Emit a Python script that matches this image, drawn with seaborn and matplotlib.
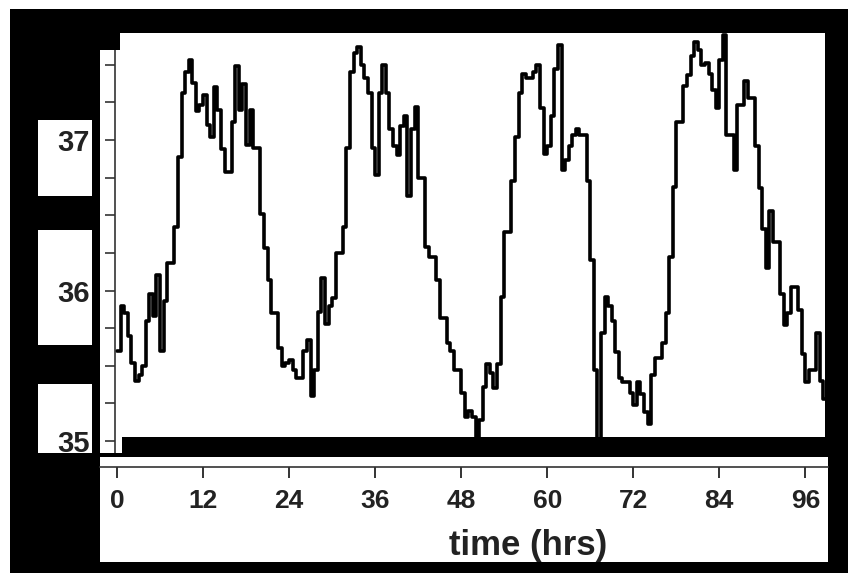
import numpy as np
import pandas as pd
import matplotlib.pyplot as plt
from matplotlib.patches import Rectangle
from matplotlib.ticker import MultipleLocator
import seaborn as sns

# body temperature, one reading every half hour
temp_00_12 = [35.6, 35.9, 35.85, 35.7, 35.52, 35.4, 35.44, 35.5, 35.8, 35.98, 35.83, 36.1,
              35.6, 35.93, 36.18, 36.18, 36.42, 36.89, 37.31, 37.45, 37.53, 37.38, 37.19, 37.23]
temp_12_24 = [37.3, 37.1, 37.02, 37.35, 37.2, 36.94, 36.79, 36.79, 37.12, 37.49, 37.2, 37.37,
              36.97, 37.2, 36.95, 36.95, 36.51, 36.28, 36.07, 35.85, 35.85, 35.62, 35.5, 35.52]
temp_24_36 = [35.54, 35.47, 35.42, 35.42, 35.6, 35.67, 35.3, 35.47, 35.86, 36.08, 35.78, 35.9,
              35.95, 36.25, 36.25, 36.42, 36.95, 37.45, 37.58, 37.62, 37.5, 37.41, 37.31, 36.95]
temp_36_48 = [36.77, 37.31, 37.5, 37.31, 37.07, 36.96, 36.9, 37.09, 37.16, 36.63, 37.07, 37.22,
              36.75, 36.75, 36.29, 36.22, 36.22, 36.07, 35.82, 35.82, 35.65, 35.6, 35.47, 35.47]
temp_48_60 = [35.32, 35.16, 35.2, 35.16, 35.02, 35.14, 35.36, 35.51, 35.45, 35.35, 35.51, 35.96,
              36.39, 36.39, 36.73, 37.02, 37.31, 37.44, 37.41, 37.41, 37.45, 37.5, 37.21, 36.91]
temp_60_72 = [36.96, 37.16, 37.47, 37.63, 36.8, 36.87, 36.96, 37.03, 37.07, 37.03, 37.03, 36.73,
              36.2, 35.47, 35.0, 35.72, 35.96, 35.9, 35.8, 35.59, 35.42, 35.39, 35.39, 35.32]
temp_72_84 = [35.24, 35.39, 35.31, 35.19, 35.11, 35.44, 35.55, 35.55, 35.65, 35.85, 36.22, 36.69,
              37.12, 37.12, 37.36, 37.43, 37.56, 37.65, 37.6, 37.5, 37.51, 37.44, 37.33, 37.21]
temp_84_96 = [37.53, 37.7, 37.03, 37.03, 36.8, 37.23, 37.23, 37.39, 37.28, 37.28, 36.96, 36.68,
              36.41, 36.15, 36.53, 36.32, 36.32, 35.98, 35.77, 35.85, 36.02, 36.02, 35.87, 35.58]
temp_96_99 = [35.39, 35.47, 35.47, 35.72, 35.4, 35.28, 35.28]

x_ticks = [0, 12, 24, 36, 48, 60, 72, 84, 96]
y_ticks = [35, 36, 37]

temps = (temp_00_12 + temp_12_24 + temp_24_36 + temp_36_48 + temp_48_60
         + temp_60_72 + temp_72_84 + temp_84_96 + temp_96_99)
df = pd.DataFrame({'time': np.arange(len(temps)) * 0.5, 'temp': temps})

W, H = 851, 573


def hr(px):
    return (px - 117) / 7.17


def deg(py):
    return 37 + (140 - py) / 150.5


sns.set_style('white')
plt.rcParams['font.family'] = ['Liberation Sans', 'DejaVu Sans']

fig = plt.figure(figsize=(W / 100, H / 100), dpi=100, facecolor='white')


def box(x0, y0, x1, y1, color, z):
    fig.add_artist(Rectangle((x0 / W, 1 - y1 / H), (x1 - x0) / W, (y1 - y0) / H,
                             transform=fig.transFigure, facecolor=color,
                             edgecolor='none', zorder=z))


# scanned frame
box(10, 9, 848, 573, 'black', -3)
box(38, 120, 92, 453, 'white', -2)
box(38, 196, 92, 230, 'black', -1)
box(38, 345, 92, 384, 'black', -1)

# main plot
ax = fig.add_axes([100 / W, 1 - 453 / H, 725 / W, 420 / H])
ax.set_facecolor('white')
sns.lineplot(data=df, x='time', y='temp', ax=ax, color='black', linewidth=2.6,
             drawstyle='steps-post', estimator=None)
ax.set_xlim(hr(100), hr(825))
ax.set_ylim(deg(453), deg(33))
for s in ['top', 'right', 'bottom']:
    ax.spines[s].set_visible(False)
ax.spines['left'].set_position(('axes', 15 / 725))
ax.spines['left'].set_bounds(deg(453), deg(50))
ax.spines['left'].set_color('#333333')
ax.spines['left'].set_linewidth(1.2)
ax.set_xticks([])
ax.set_yticks(y_ticks)
ax.yaxis.set_minor_locator(MultipleLocator(0.25))
ax.tick_params(axis='y', which='both', left=True, direction='out', length=7,
               width=1.2, color='#333333', pad=11)
ax.tick_params(axis='y', which='major', labelsize=21, labelcolor='#222222')
for t in ax.get_yticklabels():
    t.set_fontweight('bold')
ax.set_xlabel('')
ax.set_ylabel('')

# black bars over the plot
box(100, 33, 120, 50, 'black', 5)
box(122, 437, 828, 453, 'black', 5)
box(100, 453, 828, 457, 'black', 5)

# time axis
ax2 = fig.add_axes([100 / W, 1 - 562 / H, 728 / W, 105 / H])
ax2.set_facecolor('white')
ax2.set_xlim(hr(100), hr(828))
ax2.set_ylim(0, 1)
for s in ['top', 'right', 'left']:
    ax2.spines[s].set_visible(False)
ax2.spines['bottom'].set_position(('axes', (562 - 467) / 105))
ax2.spines['bottom'].set_color('#333333')
ax2.spines['bottom'].set_linewidth(1.2)
ax2.set_yticks([])
ax2.set_xticks(x_ticks)
ax2.tick_params(axis='x', bottom=True, direction='out', length=8, width=1.4,
                color='#333333', labelsize=19, labelcolor='#222222', pad=8)
for t in ax2.get_xticklabels():
    t.set_fontweight('bold')

fig.text(528 / W, 1 - 545 / H, 'time (hrs)', ha='center', va='center',
         fontsize=25, fontweight='bold', color='#222222')

fig.savefig('out.png', dpi=100, facecolor='white')
